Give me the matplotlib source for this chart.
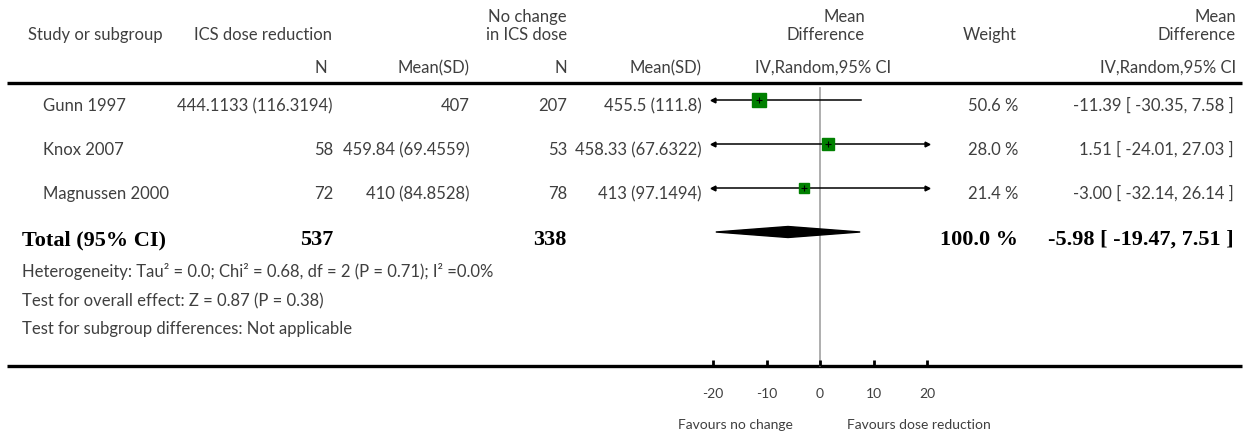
import numpy as np
import matplotlib
matplotlib.use("Agg")
import matplotlib.pyplot as plt
from matplotlib.patches import Polygon

plt.rcParams['font.family'] = ['Lato', 'DejaVu Sans']

# study rows
studies = ["Gunn 1997", "Knox 2007", "Magnussen 2000"]
red_n = ["444.1133 (116.3194)", "58", "72"]
red_mean = ["407", "459.84 (69.4559)", "410 (84.8528)"]
ctl_n = ["207", "53", "78"]
ctl_mean = ["455.5 (111.8)", "458.33 (67.6322)", "413 (97.1494)"]
md = [-11.39, 1.51, -3.00]
ci_lo = [-30.35, -24.01, -32.14]
ci_hi = [7.58, 27.03, 26.14]
weight = [50.6, 28.0, 21.4]

# pooled estimate
total_red_n = 537
total_ctl_n = 338
total_md = -5.98
total_lo = -19.47
total_hi = 7.51
total_weight = 100.0

footer = [
    "Heterogeneity: Tau² = 0.0; Chi² = 0.68, df = 2 (P = 0.71); I² =0.0%",
    "Test for overall effect: Z = 0.87 (P = 0.38)",
    "Test for subgroup differences: Not applicable",
]
xticks = [-20, -10, 0, 10, 20]
xlim = (-20, 20)

W, H = 1249, 434
GREY = "#3f3f3f"
fs = 12

fig = plt.figure(figsize=(W / 100, H / 100), dpi=100)
ax = fig.add_axes([0, 0, 1, 1])
ax.set_xlim(0, W)
ax.set_ylim(H, 0)
ax.axis("off")

# forest panel: x in effect units, y in the same pixel rows as the table
fx0, fx1 = 713, 927
fax = fig.add_axes([fx0 / W, 0, (fx1 - fx0) / W, 1])
fax.set_xlim(*xlim)
fax.set_ylim(H, 0)
fax.axis("off")
fax.patch.set_alpha(0)

def txt(x, y, s, ha="left", **kw):
    kw.setdefault("color", GREY)
    kw.setdefault("fontsize", fs)
    ax.text(x, y, s, ha=ha, va="baseline", **kw)

# header
txt(28, 40, "Study or subgroup")
txt(194, 40, "ICS dose reduction")
txt(567, 22, "No change", ha="right")
txt(567, 40, "in ICS dose", ha="right")
txt(865, 22, "Mean", ha="right")
txt(865, 40, "Difference", ha="right")
txt(990, 40, "Weight", ha="center")
txt(1236, 22, "Mean", ha="right")
txt(1236, 40, "Difference", ha="right")
txt(327, 73, "N", ha="right")
txt(470, 73, "Mean(SD)", ha="right")
txt(567, 73, "N", ha="right")
txt(702, 73, "Mean(SD)", ha="right")
txt(823, 73, "IV,Random,95% CI", ha="center")
txt(1236, 73, "IV,Random,95% CI", ha="right")
ax.plot([7, 1242], [83, 83], color="black", lw=2.4, solid_capstyle="butt")

row_y = [100, 144, 188]
for i, y in enumerate(row_y):
    b = y + 11
    txt(43, b, studies[i])
    txt(333, b, red_n[i], ha="right")
    txt(470, b, red_mean[i], ha="right")
    txt(567, b, ctl_n[i], ha="right")
    txt(702, b, ctl_mean[i], ha="right")
    txt(1018, b, f"{weight[i]:.1f} %", ha="right")
    txt(1234, b, f"{md[i]:.2f} [ {ci_lo[i]:.2f}, {ci_hi[i]:.2f} ]", ha="right")

    lo = max(ci_lo[i], xlim[0])
    hi = min(ci_hi[i], xlim[1])
    fax.plot([lo, hi], [y, y], color="black", lw=1.1, clip_on=False, zorder=3)
    if ci_lo[i] < xlim[0]:
        fax.plot(lo, y, marker="<", ms=3.5, color="black", clip_on=False, zorder=3)
    if ci_hi[i] > xlim[1]:
        fax.plot(hi, y, marker=">", ms=3.5, color="black", clip_on=False, zorder=3)
    side = 2.1 * np.sqrt(weight[i]) * 0.72
    fax.plot(md[i], y, marker="s", ms=side, color="#008000", mec="#008000",
             clip_on=False, zorder=4)
    fax.plot(md[i], y, marker="+", ms=5, mew=0.8, color="black", clip_on=False, zorder=5)

# pooled row
ty = 232
bold = dict(family="Liberation Serif", fontweight="bold", color="black", fontsize=16)
txt(22, 245, "Total (95% CI)", **bold)
txt(333, 245, str(total_red_n), ha="right", **bold)
txt(567, 245, str(total_ctl_n), ha="right", **bold)
txt(1018, 245, f"{total_weight:.1f} %", ha="right", **bold)
txt(1234, 245, f"{total_md:.2f} [ {total_lo:.2f}, {total_hi:.2f} ]", ha="right", **bold)
fax.add_patch(Polygon([[total_lo, ty], [total_md, ty - 5.5], [total_hi, ty], [total_md, ty + 5.5]],
                      closed=True, color="black", clip_on=False, zorder=4))

for s, b in zip(footer, [277, 306, 334]):
    txt(22, b, s)

# zero line and axis
fax.plot([0, 0], [88, 366], color="#a8a8a8", lw=1.3, clip_on=False, zorder=2)
ax.plot([7, 1242], [366, 366], color="black", lw=2.4, solid_capstyle="butt")
for t in xticks:
    fax.plot([t, t], [366, 360], color="black", lw=2, clip_on=False, solid_capstyle="butt")
    fax.text(t, 398, f"{t}", ha="center", va="baseline", fontsize=10, color=GREY)
fax.text(-5, 429, "Favours no change", ha="right", va="baseline", fontsize=10, color=GREY)
fax.text(5, 429, "Favours dose reduction", ha="left", va="baseline", fontsize=10, color=GREY)

fig.savefig("out.png", dpi=100)
